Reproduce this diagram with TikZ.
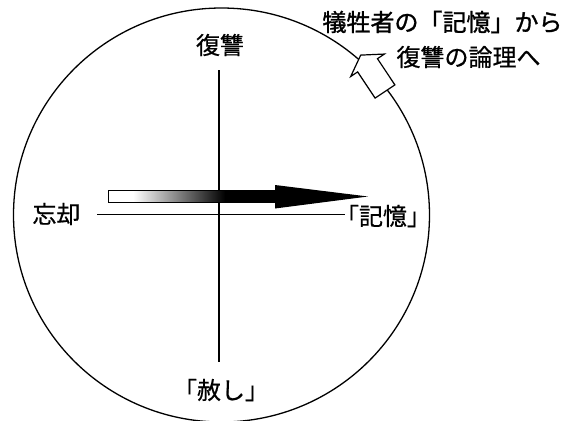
\documentclass[tikz,border=0pt]{standalone}
\usepackage{fontspec}
\setmainfont{Noto Sans CJK JP}[FakeBold=0.6]
\newfontfamily\jpheavy{Noto Sans CJK JP}[FakeBold=1.2]
\begin{document}
\begin{tikzpicture}[x=1pt,y=-1pt,
  lbl/.style={font=\fontsize{24}{28}\selectfont, inner sep=0pt},
  heavylbl/.style={font=\jpheavy\fontsize{24}{28}\selectfont, inner sep=0pt},
  axisline/.style={line width=1.1pt},
  rim/.style={line width=1.3pt},
  openarrow/.style={line width=1.2pt, fill=white, line join=miter}]
\useasboundingbox (0,0) rectangle (566,421);
% outer circle
\draw[rim] (221.5,215) ellipse [x radius=208pt, y radius=207pt];
% labels
\node[lbl] (fukushu) at (220,45) {復讐};
\node[lbl] (yurushi) at (221,390) {「赦し」};
\node[lbl] (boukyaku) at (56.5,214) {忘却};
\node[lbl] (kioku) at (383,216) {「記憶」};
\node[heavylbl] (t1) at (442.5,22) {犠牲者の「記憶」から};
\node[lbl] (t2) at (468.5,57) {復讐の論理へ};
% axes
\coordinate (vt) at (219,70);
\coordinate (vb) at (219,362);
\coordinate (hl) at (97,214.5);
\coordinate (hr) at (345,214.5);
\draw[axisline] (vt) -- (vb);
\draw[axisline] (hl) -- (hr);
% main gradient arrow
\fill[white] (108,190) rectangle (133,202);
\shade[left color=white, right color=black] (133,190) rectangle (225,202);
\fill[black] (225,190) rectangle (277,202);
\draw[line width=1pt] (108,190) rectangle (277,202);
\fill[black] (275,185) -- (368,196.5) -- (275,208.5) -- cycle;
% open arrow at the rim
\draw[openarrow] (375.1,98.1) -- (357.65,71.9) -- (350.7,76.5) -- (360.7,55.1)
  -- (384.4,54.05) -- (377.45,58.7) -- (394.9,84.9) -- cycle;
\end{tikzpicture}
\end{document}
